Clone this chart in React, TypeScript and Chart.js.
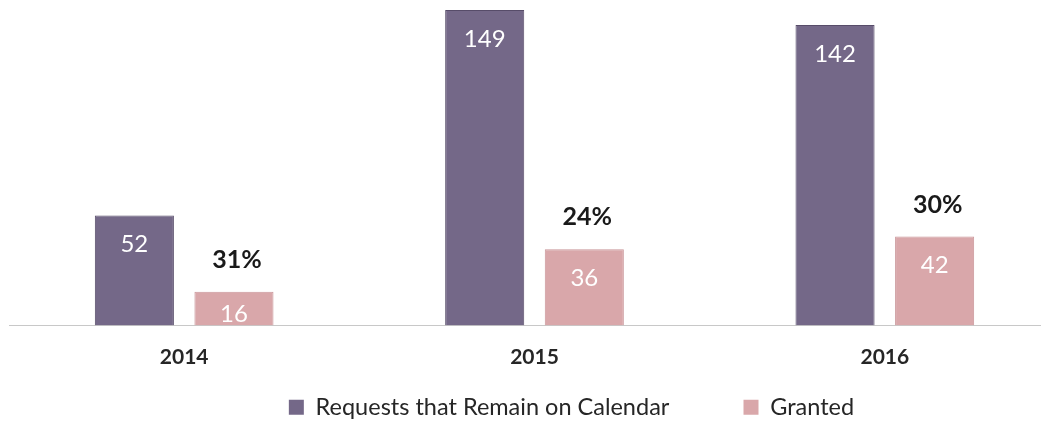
import React, { useEffect, useRef } from "react";
import { Chart, registerables } from "chart.js";

Chart.register(...registerables);

const years = ["2014", "2015", "2016"];
const remainOnCalendar = [52, 149, 142];
const granted = [16, 36, 42];
const grantedShare = ["31%", "24%", "30%"];
const seriesNames = ["Requests that Remain on Calendar", "Granted"];
const seriesColors = ["#746888", "#d9a7aa"];
const seriesBorders = ["#574c69", "#c99599"];

const FONT = "Lato, 'Open Sans', sans-serif";

const labelPlugin = {
  id: "barLabels",
  afterLayout(chart: any) {
    const lg = chart.legend;
    if (lg) {
      lg.left += 37;
      lg.right += 37;
    }
  },
  afterDraw(chart: any) {
    const ctx = chart.ctx;
    const base = chart.chartArea.bottom;
    ctx.save();
    ctx.textAlign = "center";
    ctx.textBaseline = "middle";
    chart.data.datasets.forEach((ds: any, di: number) => {
      const meta = chart.getDatasetMeta(di);
      meta.data.forEach((bar: any, i: number) => {
        ctx.font = `400 24px ${FONT}`;
        ctx.fillStyle = "#ffffff";
        const ly = Math.min(bar.y + 29, base - 11);
        ctx.fillText(String(ds.data[i]), bar.x, ly);
        if (di === 1) {
          ctx.font = `700 25px ${FONT}`;
          ctx.fillStyle = "#1a1a1a";
          ctx.fillText(grantedShare[i], bar.x + 3, bar.y - 32);
        }
      });
    });
    ctx.restore();
  },
};

export default function App() {
  const ref = useRef<HTMLCanvasElement | null>(null);

  useEffect(() => {
    if (!ref.current) return;
    const chart = new Chart(ref.current, {
      type: "bar",
      data: {
        labels: years,
        datasets: [
          {
            label: seriesNames[0],
            data: remainOnCalendar,
            backgroundColor: seriesColors[0],
            borderColor: seriesBorders[0],
            borderWidth: 1,
            categoryPercentage: 0.5686,
            barPercentage: 0.794,
          },
          {
            label: seriesNames[1],
            data: granted,
            backgroundColor: seriesColors[1],
            borderColor: seriesBorders[1],
            borderWidth: 1,
            categoryPercentage: 0.5686,
            barPercentage: 0.794,
          },
        ],
      },
      options: {
        responsive: false,
        animation: false,
        layout: { padding: { left: 1, right: 0, top: 0, bottom: 0 } },
        scales: {
          x: {
            grid: { display: false, drawTicks: false },
            border: { display: true, color: "#c8c8c8", width: 1 },
            ticks: {
              padding: 19,
              color: "#262626",
              font: { family: FONT, size: 21, weight: "bold" },
            },
            afterFit: (scale: any) => {
              scale.height = 50;
            },
          },
          y: {
            display: false,
            min: 0,
            max: 150,
          },
        },
        plugins: {
          tooltip: { enabled: false },
          legend: {
            position: "bottom",
            labels: {
              boxWidth: 15,
              boxHeight: 15,
              padding: 20,
              color: "#262626",
              font: { family: FONT, size: 23.5 },
              generateLabels: (c: any) => {
                const base = Chart.defaults.plugins.legend.labels.generateLabels(c);
                return base.map((l: any, i: number) => ({
                  ...l,
                  text: i === 0 ? l.text + "         " : l.text,
                  lineWidth: 0,
                }));
              },
            },
          },
        },
      },
      plugins: [labelPlugin],
    });
    return () => chart.destroy();
  }, []);

  return (
    <div style={{ width: 1041, height: 415, overflow: "hidden" }}>
      <canvas ref={ref} width={1052} height={421} style={{ display: "block" }} />
    </div>
  );
}
